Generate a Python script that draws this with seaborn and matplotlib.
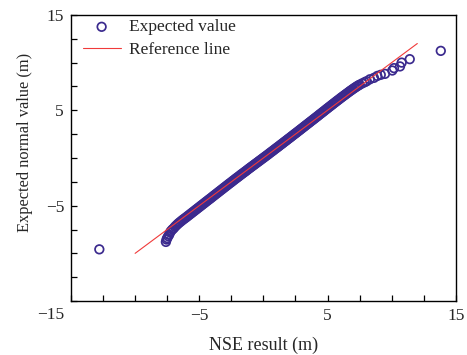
import matplotlib
matplotlib.use("Agg")
import matplotlib.pyplot as plt
import matplotlib.transforms as mtransforms
import seaborn as sns
import pandas as pd
from matplotlib.ticker import MultipleLocator, FixedLocator

# ---- data ----
lower_x = [-12.79, -7.60, -7.55, -7.50, -7.42, -7.35, -7.27, -7.20, -7.10, -7.00,
           -6.90, -6.80, -6.70, -6.60, -6.50, -6.40, -6.30, -6.20, -6.10]
lower_y = [-9.58, -8.80, -8.55, -8.40, -8.20, -8.05, -7.80, -7.65, -7.50, -7.38,
           -7.22, -7.08, -6.95, -6.83, -6.72, -6.61, -6.50, -6.40, -6.30]

mid_x = [-6.0, -5.9, -5.8, -5.7, -5.6, -5.5, -5.4, -5.3, -5.2, -5.1,
         -5.0, -4.9, -4.8, -4.7, -4.6, -4.5, -4.4, -4.3, -4.2, -4.1,
         -4.0, -3.9, -3.8, -3.7, -3.6, -3.5, -3.4, -3.3, -3.2, -3.1,
         -3.0, -2.9, -2.8, -2.7, -2.6, -2.5, -2.4, -2.3, -2.2, -2.1,
         -2.0, -1.9, -1.8, -1.7, -1.6, -1.5, -1.4, -1.3, -1.2, -1.1,
         -1.0, -0.9, -0.8, -0.7, -0.6, -0.5, -0.4, -0.3, -0.2, -0.1,
         0.0, 0.1, 0.2, 0.3, 0.4, 0.5, 0.6, 0.7, 0.8, 0.9,
         1.0, 1.1, 1.2, 1.3, 1.4, 1.5, 1.6, 1.7, 1.8, 1.9,
         2.0, 2.1, 2.2, 2.3, 2.4, 2.5, 2.6, 2.7, 2.8, 2.9,
         3.0, 3.1, 3.2, 3.3, 3.4, 3.5, 3.6, 3.7, 3.8, 3.9,
         4.0, 4.1, 4.2, 4.3, 4.4, 4.5, 4.6, 4.7, 4.8, 4.9,
         5.0, 5.1, 5.2, 5.3, 5.4, 5.5, 5.6, 5.7, 5.8, 5.9,
         6.0, 6.1, 6.2, 6.3, 6.4, 6.5, 6.6, 6.7, 6.8, 6.9,
         7.0, 7.1, 7.2, 7.3, 7.4, 7.5]
mid_y = [-6.20, -6.09, -5.99, -5.88, -5.78, -5.67, -5.57, -5.46, -5.36, -5.25,
         -5.15, -5.04, -4.94, -4.83, -4.73, -4.62, -4.52, -4.41, -4.31, -4.21,
         -4.10, -3.99, -3.89, -3.78, -3.68, -3.57, -3.47, -3.36, -3.26, -3.15,
         -3.05, -2.94, -2.84, -2.73, -2.63, -2.53, -2.42, -2.32, -2.21, -2.11,
         -2.01, -1.91, -1.80, -1.70, -1.60, -1.50, -1.40, -1.30, -1.19, -1.09,
         -0.99, -0.89, -0.79, -0.69, -0.59, -0.49, -0.39, -0.29, -0.19, -0.09,
         0.01, 0.11, 0.21, 0.31, 0.41, 0.52, 0.62, 0.72, 0.82, 0.93,
         1.03, 1.13, 1.23, 1.34, 1.44, 1.54, 1.65, 1.75, 1.85, 1.96,
         2.06, 2.16, 2.27, 2.37, 2.48, 2.58, 2.68, 2.79, 2.89, 3.00,
         3.10, 3.21, 3.31, 3.42, 3.52, 3.63, 3.73, 3.84, 3.94, 4.05,
         4.15, 4.26, 4.36, 4.47, 4.58, 4.68, 4.79, 4.89, 5.00, 5.11,
         5.21, 5.32, 5.42, 5.53, 5.63, 5.74, 5.84, 5.95, 6.05, 6.15,
         6.26, 6.36, 6.46, 6.56, 6.66, 6.76, 6.86, 6.96, 7.06, 7.15,
         7.25, 7.34, 7.43, 7.52, 7.60, 7.68]

upper_x = [7.70, 7.90, 8.05, 8.30, 8.62, 8.88, 9.15, 9.48, 10.05, 10.18,
           10.65, 10.78, 11.41, 13.83]
upper_y = [7.82, 7.95, 8.05, 8.25, 8.40, 8.60, 8.72, 8.82, 9.17, 9.42,
           9.60, 10.00, 10.36, 11.23]

ref_x = [-10, 12]
ref_y = [-10, 12]

tick_values = [-15, -5, 5, 15]
y_tick_text = ["\u221215", "\u22125", "5", "15"]
x_tick_text = ["", "\u22125", "5", "15"]   # the corner "−15" is shared with the y axis

# ---- plotting ----
sns.set_theme(style="white")
plt.rcParams["font.family"] = ["Liberation Serif", "DejaVu Serif"]

pts = pd.DataFrame({"x": lower_x + mid_x + upper_x,
                    "y": lower_y + mid_y + upper_y})
ref = pd.DataFrame({"x": ref_x, "y": ref_y})

fig = plt.figure(figsize=(4.67, 3.55), dpi=100)
ax = fig.add_axes([0.152, 0.152, 0.824, 0.806])

mc = "#3b2a8e"
sns.scatterplot(data=pts, x="x", y="y", ax=ax, marker="o", s=38,
                facecolors="none", edgecolor=mc, linewidth=1.25,
                label="Expected value", zorder=2)
sns.lineplot(data=ref, x="x", y="y", ax=ax, color="#f03a3a", linewidth=0.8,
             label="Reference line", zorder=3)

ax.set_xlim(-15, 15)
ax.set_ylim(-15, 15)
for axis in (ax.xaxis, ax.yaxis):
    axis.set_major_locator(FixedLocator(tick_values))
    axis.set_minor_locator(MultipleLocator(2.5))
ax.set_xticklabels(x_tick_text)
ax.set_yticklabels(y_tick_text)
ax.tick_params(which="both", direction="in", length=4, width=0.9,
               color="black", bottom=True, left=True, top=False, right=False,
               labelsize=12.5, pad=5)
for s in ax.spines.values():
    s.set_color("black")
    s.set_linewidth(1.0)

# corner label sits below the origin corner
yl = ax.get_yticklabels()[0]
yl.set_transform(yl.get_transform() +
                 mtransforms.ScaledTranslation(0, -12 / 100, fig.dpi_scale_trans))

ax.set_xlabel("NSE result (m)", fontsize=13, labelpad=9)
ax.set_ylabel("Expected normal value (m)", fontsize=11.8)
ax.yaxis.set_label_coords(-0.099, 0.556)

leg = ax.legend(loc="upper left", bbox_to_anchor=(0.030, 0.985), frameon=False,
                fontsize=12.5, handlelength=2.2, handletextpad=0.45,
                borderaxespad=0, borderpad=0, labelspacing=0.38)

fig.savefig("out.png", dpi=100)
